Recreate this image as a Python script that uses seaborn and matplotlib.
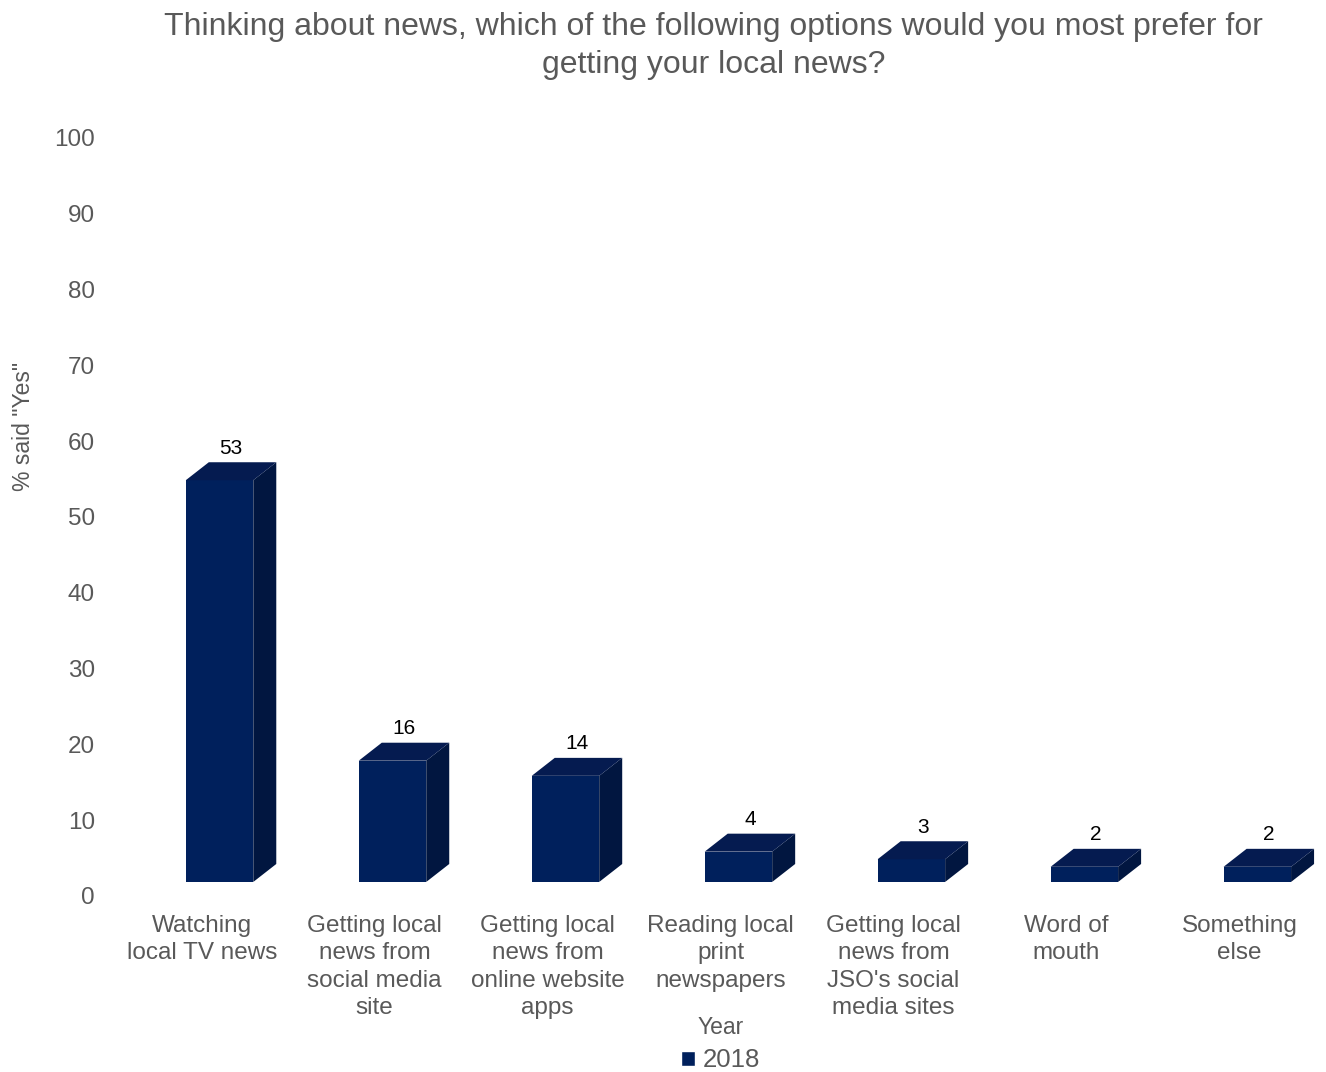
import pandas as pd
import matplotlib.pyplot as plt
import seaborn as sns
from matplotlib.patches import Polygon

categories = [
    "Watching\nlocal TV news",
    "Getting local\nnews from\nsocial media\nsite",
    "Getting local\nnews from\nonline website\napps",
    "Reading local\nprint\nnewspapers",
    "Getting local\nnews from\nJSO's social\nmedia sites",
    "Word of\nmouth",
    "Something\nelse",
]
values = [53, 16, 14, 4, 3, 2, 2]
year = ["2018"] * len(values)

df = pd.DataFrame({"category": categories, "value": values, "Year": year})

front = "#00205C"
top_col = "#051B50"
side_col = "#011640"
gray = "#595959"

sns.set_style("white")
plt.rcParams["font.family"] = ["Liberation Sans", "DejaVu Sans"]

fig = plt.figure(figsize=(13.26, 10.72), dpi=100)
ax = fig.add_axes([0.083, 0.1642, 0.917, 0.7071])

sns.barplot(data=df, x="category", y="value", hue="Year", palette=[front],
            saturation=1, ax=ax)

# fake 3d look, like the excel chart
base = 1.85
dx, dy = 0.133, 2.37
bw = 0.39
for i, (bar, v) in enumerate(zip(ax.containers[0], values)):
    x0 = i - 0.092
    x1 = x0 + bw
    bar.set_x(x0)
    bar.set_width(bw)
    bar.set_y(base)
    bar.set_height(v)
    bar.set_edgecolor("none")
    t = base + v
    ax.add_patch(Polygon([(x1, base), (x1 + dx, base + dy), (x1 + dx, t + dy), (x1, t)],
                         closed=True, facecolor=side_col, edgecolor="none"))
    ax.add_patch(Polygon([(x0, t), (x0 + dx, t + dy), (x1 + dx, t + dy), (x1, t)],
                         closed=True, facecolor=top_col, edgecolor="none"))
    ax.text((x0 + x1 + dx) / 2, t + dy + 0.6, str(v), ha="center", va="bottom",
            fontsize=15, color="black")

ax.set_xlim(-0.53, 6.5)
ax.set_ylim(0, 100)
ax.set_yticks(range(0, 101, 10))
ax.tick_params(axis="both", length=0, labelsize=17.5, labelcolor=gray)
ax.tick_params(axis="x", pad=13.5)
for lbl in ax.get_xticklabels():
    lbl.set_linespacing(1.32)
ax.tick_params(axis="y", pad=11)
sns.despine(ax=ax, left=True, bottom=True)

ax.set_xlabel("")
ax.set_ylabel('% said "Yes"', fontsize=16.5, color=gray)
ax.yaxis.set_label_coords(-0.062, 0.62)

sns.move_legend(ax, "upper center", bbox_to_anchor=(0.502, -0.158), frameon=False,
                title="Year", fontsize=18.5, title_fontsize=16.5,
                handlelength=0.55, handleheight=0.55, handletextpad=0.3,
                labelspacing=0.1, borderaxespad=0, borderpad=0)
leg = ax.get_legend()
leg._legend_box.sep = 7
for txt in leg.get_texts():
    txt.set_color(gray)
leg.get_title().set_color(gray)

fig.text(0.538, 0.989,
         "Thinking about news, which of the following options would you most prefer for\ngetting your local news?",
         ha="center", va="top", fontsize=23, color=gray, linespacing=1.35)

fig.savefig("out.png", dpi=100)
